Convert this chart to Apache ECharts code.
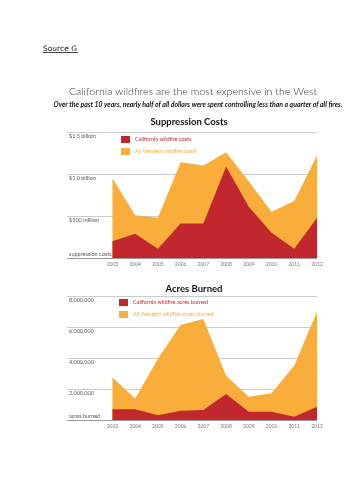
<!DOCTYPE html>
<html>
<head>
<meta charset="utf-8">
<script src="https://cdn.jsdelivr.net/npm/echarts@6/dist/echarts.min.js"></script>
<style>
  html, body { margin: 0; padding: 0; background: #fff; }
  #main { width: 354px; height: 500px; }
</style>
</head>
<body>
<div id="main"></div>
<script>
// data
var years = [2003, 2004, 2005, 2006, 2007, 2008, 2009, 2010, 2011, 2012];
// suppression costs, billions of dollars
var caCosts = [0.20, 0.29, 0.11, 0.41, 0.41, 1.09, 0.61, 0.30, 0.11, 0.48];
var westCosts = [0.95, 0.51, 0.48, 1.14, 1.10, 1.26, 0.91, 0.55, 0.68, 1.22];
// acres burned
var caAcres = [700000, 690000, 300000, 600000, 640000, 1670000, 540000, 540000, 210000, 860000];
var westAcres = [2745000, 1390000, 3950000, 6130000, 6520000, 2850000, 1500000, 1720000, 3520000, 6990000];
var costTicks = {0: 'suppression costs', 0.5: '$500 million', 1: '$1.0 billion', 1.5: '$1.5 billion'};
var acreTicks = {0: 'acres burned', 2000000: '2,000,000', 4000000: '4,000,000', 6000000: '6,000,000', 8000000: '8,000,000'};

var RED = '#c1272d';
var ORANGE = '#f9ae3b';
var FONT = 'Lato, sans-serif';

function pairs(vals) {
    return years.map(function (y, i) { return [y, vals[i]]; });
}

function tickLabel(map) {
    return function (v) {
        var t = map[v];
        if (t === undefined) return '';
        return v === 0 ? '{up|' + t + '}' : '{dn|' + t + '}';
    };
}

var richLabels = {
    up: { padding: [0, 0, 8, 0], fontSize: 5.5, color: '#555', fontFamily: FONT },
    dn: { padding: [8, 0, 0, 0], fontSize: 5.5, color: '#555', fontFamily: FONT }
};

function xAxis(gi) {
    return {
        type: 'value', gridIndex: gi, min: 2001, max: 2012, interval: 1,
        axisLine: { show: false },
        axisTick: { show: false },
        splitLine: { show: false },
        axisLabel: {
            fontSize: 5, color: '#777', fontFamily: FONT, margin: 4,
            formatter: function (v) { return v >= 2003 ? String(v) : ''; }
        }
    };
}

function yAxis(gi, max, interval, map) {
    return {
        type: 'value', gridIndex: gi, min: 0, max: max, interval: interval,
        axisLine: { show: false },
        axisTick: { show: false },
        splitLine: { show: true, lineStyle: { color: ['#999', '#ccc', '#ccc', '#ccc', '#ccc'], width: 1 } },
        axisLabel: {
            inside: true, margin: 2, verticalAlign: 'middle',
            formatter: tickLabel(map), rich: richLabels
        }
    };
}

function area(name, gi, vals, color, z) {
    return {
        name: name, type: 'line', xAxisIndex: gi, yAxisIndex: gi, z: z,
        data: pairs(vals), showSymbol: false, symbol: 'none',
        lineStyle: { width: 0 },
        areaStyle: { color: color, opacity: 1 },
        itemStyle: { color: color }
    };
}

var myChart = echarts.init(document.getElementById('main'));

var option = {
    animation: false,
    title: [
        { text: 'Suppression Costs', left: 189, top: 117, textAlign: 'center', padding: 0,
          textStyle: { fontSize: 9.5, fontWeight: 'bold', color: '#111', fontFamily: FONT } },
        { text: 'Acres Burned', left: 194, top: 284, textAlign: 'center', padding: 0,
          textStyle: { fontSize: 9.5, fontWeight: 'bold', color: '#111', fontFamily: FONT } }
    ],
    graphic: [
        { type: 'text', left: 43, top: 45,
          style: { text: 'Source G', fontSize: 7.5, fill: '#111', fontFamily: 'DejaVu Sans' } },
        { type: 'line', shape: { x1: 43, y1: 52.5, x2: 78, y2: 52.5 }, style: { stroke: '#111', lineWidth: 0.8 } },
        { type: 'text', x: 193, y: 92,
          style: { text: 'California wildfires are the most expensive in the West', align: 'center',
                   verticalAlign: 'middle', fontSize: 10.6, fontWeight: 300, fill: '#333', fontFamily: FONT } },
        { type: 'text', x: 198, y: 105,
          style: { text: 'Over the past 10 years, nearly half of all dollars were spent controlling less than a quarter of all fires.',
                   align: 'center', verticalAlign: 'middle', fontSize: 6.9, fontWeight: 'bold', fontStyle: 'italic',
                   fill: '#111', fontFamily: FONT } }
    ],
    legend: [
        { orient: 'vertical', left: 121, top: 136, itemWidth: 9, itemHeight: 7, itemGap: 5, padding: 0,
          icon: 'rect', textStyle: { fontSize: 5.5, fontFamily: FONT },
          data: [
              { name: 'California wildfire costs', textStyle: { color: RED } },
              { name: 'All Western wildfire costs', textStyle: { color: ORANGE } }
          ] },
        { orient: 'vertical', left: 119, top: 299, itemWidth: 9, itemHeight: 7, itemGap: 5, padding: 0,
          icon: 'rect', textStyle: { fontSize: 5.5, fontFamily: FONT },
          data: [
              { name: 'California wildfire acres burned', textStyle: { color: RED } },
              { name: 'All Western wildfire acres burned', textStyle: { color: ORANGE } }
          ] }
    ],
    grid: [
        { left: 67, right: 37, top: 132, bottom: 242 },
        { left: 67, right: 37, top: 296, bottom: 80 }
    ],
    xAxis: [xAxis(0), xAxis(1)],
    yAxis: [yAxis(0, 1.5, 0.5, costTicks), yAxis(1, 8000000, 2000000, acreTicks)],
    series: [
        area('All Western wildfire costs', 0, westCosts, ORANGE, 2),
        area('California wildfire costs', 0, caCosts, RED, 3),
        area('All Western wildfire acres burned', 1, westAcres, ORANGE, 2),
        area('California wildfire acres burned', 1, caAcres, RED, 3)
    ]
};

myChart.setOption(option);
</script>
</body>
</html>
